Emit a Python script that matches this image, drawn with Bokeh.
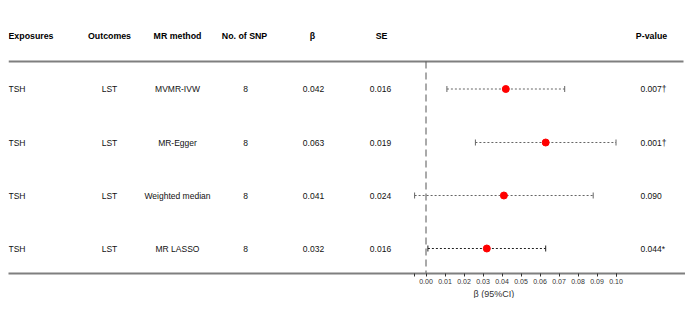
from bokeh.plotting import figure
from bokeh.models import (Range1d, LinearAxis, FixedTicker, NumeralTickFormatter,
                          ColumnDataSource, Title)
from bokeh.core.properties import value
from bokeh.embed import file_html
from bokeh.resources import INLINE

# ---------------- data ----------------
headers = ["Exposures", "Outcomes", "MR method", "No. of SNP", "β", "SE", "P-value"]
exposures = ["TSH", "TSH", "TSH", "TSH"]
outcomes = ["LST", "LST", "LST", "LST"]
methods = ["MVMR-IVW", "MR-Egger", "Weighted median", "MR LASSO"]
n_snp = ["8", "8", "8", "8"]
beta = [0.042, 0.063, 0.041, 0.032]
se = [0.016, 0.019, 0.024, 0.016]
ci_lower = [0.011, 0.026, -0.006, 0.001]
ci_upper = [0.073, 0.100, 0.088, 0.063]
p_labels = ["0.007†", "0.001†", "0.090", "0.044*"]
beta_ticks = [0.00, 0.01, 0.02, 0.03, 0.04, 0.05, 0.06, 0.07, 0.08, 0.09, 0.10]
axis_title = "β (95%CI)"

# ---------------- layout (pixel-like coordinates) ----------------
LEFT, RIGHT, TOP, BOTTOM = 8, 685, 8, 273
X0_PX, PX_PER_UNIT = 425.5, 1900.0
HEADER_Y = 35.7
RULE_Y = 61
ROW_Y = [88.5, 142, 195, 248]
FONT = "Liberation Sans"
CI_COLORS = ["#666666", "#666666", "#666666", "#222222"]

p = figure(frame_width=RIGHT - LEFT, frame_height=BOTTOM - TOP,
           x_range=Range1d(LEFT, RIGHT), y_range=Range1d(BOTTOM, TOP),
           x_axis_location=None, y_axis_location=None,
           toolbar_location=None, output_backend="svg",
           min_border_left=LEFT, min_border_right=0, min_border_top=TOP,
           min_border_bottom=0, outline_line_color=None,
           background_fill_color="white", border_fill_color="white")
p.grid.visible = False
p.extra_x_ranges = {"beta": Range1d((LEFT - X0_PX) / PX_PER_UNIT,
                                    (RIGHT - X0_PX) / PX_PER_UNIT)}

# header
hdr_x = [8, 109, 177, 244, 312, 381, 651]
hdr_align = ["left", "center", "center", "center", "center", "center", "center"]
p.text(x=hdr_x, y=[HEADER_Y] * len(headers), text=headers,
       text_align=hdr_align, text_baseline="middle",
       text_font=value(FONT), text_font_size="8.8px", text_font_style="bold",
       text_color="#000000")

# top rule
p.segment(x0=[LEFT], x1=[RIGHT - 2], y0=[RULE_Y], y1=[RULE_Y],
          line_color="#7f7f7f", line_width=2)

# table body columns
cols = [(exposures, 8, "left"), (outcomes, 109, "center"), (methods, 177, "center"),
        (n_snp, 245, "center"), (["%.3f" % b for b in beta], 313, "center"),
        (["%.3f" % s for s in se], 380, "center"), (p_labels, 640, "left")]
for vals, cx, al in cols:
    p.text(x=[cx] * len(vals), y=ROW_Y, text=vals, text_align=al,
           text_baseline="middle", text_font=value(FONT),
           text_font_size="8.5px", text_color="#111111")

# zero reference line
p.segment(x0=[0], x1=[0], y0=[RULE_Y], y1=[BOTTOM], x_range_name="beta",
          line_color="#555555", line_width=1, line_dash="7 4")

# CI lines, caps and points
src = ColumnDataSource(dict(lo=ci_lower, hi=ci_upper, b=beta, y=ROW_Y, c=CI_COLORS))
p.segment(x0="lo", x1="hi", y0="y", y1="y", source=src, x_range_name="beta",
          line_color="c", line_width=1, line_dash="2 2")
p.scatter(x="lo", y="y", source=src, x_range_name="beta", marker="dash",
          angle=1.5708, size=6, line_color="c", line_width=1)
p.scatter(x="hi", y="y", source=src, x_range_name="beta", marker="dash",
          angle=1.5708, size=6, line_color="c", line_width=1)
p.scatter(x="b", y="y", source=src, x_range_name="beta", marker="circle",
          size=7, fill_color="#ff0000", line_color="#ff0000")

# x axis (bottom rule doubles as axis line)
ax = LinearAxis(x_range_name="beta",
                ticker=FixedTicker(ticks=beta_ticks,
                                   minor_ticks=[min(ci_lower), max(ci_upper)]),
                formatter=NumeralTickFormatter(format="0.00"))
ax.axis_line_color = "#7f7f7f"
ax.axis_line_width = 2
ax.major_tick_in = 0
ax.major_tick_out = 3
ax.minor_tick_in = 0
ax.minor_tick_out = 3
ax.major_tick_line_color = "#333333"
ax.minor_tick_line_color = "#333333"
ax.major_label_text_font = FONT
ax.major_label_text_font_size = "7px"
ax.major_label_text_color = "#333333"
ax.major_label_standoff = 2
p.add_layout(ax, "below")

# axis title placed under the forest panel
p.add_layout(Title(text=axis_title, align="left", offset=465, standoff=0,
                   text_font=FONT, text_font_size="9px",
                   text_font_style="normal", text_color="#333333"), "below")

open("out.html", "w").write(file_html(p, INLINE))
